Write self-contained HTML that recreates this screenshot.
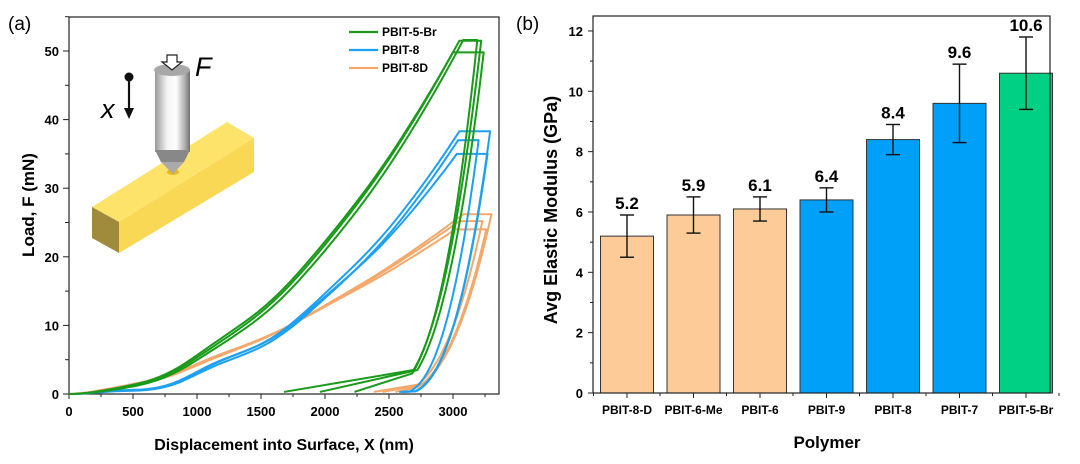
<!DOCTYPE html>
<html><head><meta charset="utf-8"><style>
html,body{margin:0;padding:0;background:#fff;}
svg text{font-family:"Liberation Sans",Arial,sans-serif;}
</style></head><body>
<svg id="s" width="1080" height="459" viewBox="0 0 1080 459" xmlns="http://www.w3.org/2000/svg">
<defs>
<linearGradient id="cyl" x1="0" x2="1" y1="0" y2="0">
<stop offset="0" stop-color="#9a9a9a"/><stop offset="0.35" stop-color="#f4f4f4"/><stop offset="0.6" stop-color="#ffffff"/><stop offset="0.85" stop-color="#b0b0b0"/><stop offset="1" stop-color="#707070"/></linearGradient>
</defs>
<text x="8" y="30" font-size="19">(a)</text>
<text x="516" y="30" font-size="19">(b)</text>
<g id="left"></g>
<g id="right"></g>
<polygon points="92,207 227,122 254,138 119,222" fill="#fde36a"/>
<polygon points="119,222 254,138 254,172 119,253" fill="#f8d855"/>
<polygon points="92,207 119,222 119,253 92,238" fill="#a08a3c"/>
<ellipse cx="173" cy="172" rx="6" ry="3" fill="#e8b820"/>
<rect x="155" y="70" width="35" height="82" fill="url(#cyl)"/>
<polygon points="155,150 190,150 184,162 161,162" fill="#888"/>
<polygon points="161,162 184,162 173,174" fill="#aaa"/>
<ellipse cx="172" cy="70" rx="18" ry="6" fill="#a8a8a8"/>
<path d="M167,55 h10 v7 h5 l-10,8 l-10,-8 h5z" fill="#fff" stroke="#222" stroke-width="1.2"/>
<text x="195" y="76" font-size="27" font-style="italic">F</text>
<text x="101" y="118" font-size="27" font-style="italic">x</text>
<circle cx="129" cy="77" r="4.5" fill="#111"/>
<line x1="129" y1="77" x2="129" y2="110" stroke="#111" stroke-width="2.2"/>
<polygon points="124,108 134,108 129,119" fill="#111"/>
</svg>
<script>
var NS="http://www.w3.org/2000/svg";
function el(p,t,a,txt){var e=document.createElementNS(NS,t);for(var k in a)e.setAttribute(k,a[k]);if(txt!==undefined)e.textContent=txt;p.appendChild(e);return e;}
var L=document.getElementById('left');
var X0=69,Y0=394,sx=0.128,sy=6.86;
function px(x){return X0+x*sx;} function py(y){return Y0-y*sy;}
el(L,'rect',{x:69,y:17,width:430,height:377,fill:'none',stroke:'#222','stroke-width':1.2});
for(var v=0;v<=3250;v+=250){var xx=px(v);el(L,'line',{x1:xx,y1:394,x2:xx,y2:v%500==0?399:397,stroke:'#222'});}
for(v=0;v<=3000;v+=500)el(L,'text',{x:px(v),y:416,'font-size':13,'font-weight':'bold','text-anchor':'middle'},v);
for(v=0;v<=55;v+=5){var yy=py(v);el(L,'line',{x1:69,y1:yy,x2:v%10==0?63:65,y2:yy,stroke:'#222'});}
for(v=0;v<=50;v+=10)el(L,'text',{x:59,y:py(v)+5,'font-size':13,'font-weight':'bold','text-anchor':'end'},v);
el(L,'text',{x:284,y:450,'font-size':16,'font-weight':'bold','text-anchor':'middle'},'Displacement into Surface, X (nm)');
el(L,'text',{x:0,y:0,'font-size':17,'font-weight':'bold','text-anchor':'middle',transform:'translate(34,205) rotate(-90)'},'Load, F (mN)');
function curve(col,x1,F,exp,x2,xf,m,tailx,taily,wob){
 var d=[],i,x,f;
 for(i=0;i<=60;i++){x=x1*i/60;f=F*Math.pow(x/x1,exp);if(wob)f+=wob*Math.sin(x/150)*Math.min(1,x/1000)*Math.max(0,1-x/2800);d.push(px(x).toFixed(1)+','+py(Math.max(0,f)).toFixed(1));}
 d.push(px(x2)+','+py(F));
 for(i=50;i>=0;i--){x=xf+(x2-xf)*i/50;f=F*Math.pow((x-xf)/(x2-xf),m);if(f<taily)break;d.push(px(x).toFixed(1)+','+py(f).toFixed(1));}
 d.push(px(xf+(x2-xf)*Math.pow(taily/F,1/m)).toFixed(1)+','+py(taily).toFixed(1));
 d.push(px(tailx)+','+py(0.3));
 el(L,'polyline',{points:d.join(' '),fill:'none',stroke:col,'stroke-width':2,'stroke-linejoin':'round'});
}
var G='#1a9a1a',B='#1ea0f0',O='#f4a96c';
curve(O,3080,26.2,1.65,3300,2500,2.6,2380,1.5,0.3);
curve(O,3050,25.2,1.6,3230,2480,2.6,2450,1.2,0.3);
curve(O,3020,24.0,1.55,3260,2500,2.6,2550,1.0,0.3);
curve(B,3050,38.3,2.3,3290,2580,2.6,2600,0.4,0.8);
curve(B,3040,37.0,2.35,3200,2560,2.5,2580,0.4,0.7);
curve(B,3030,35.0,2.2,3270,2600,2.5,2620,0.4,0.8);
curve(G,3050,51.5,2.0,3220,2400,2.6,1680,3.5,0.5);
curve(G,3000,49.8,2.05,3240,2430,2.6,1960,3.5,0.4);
curve(G,3080,51.6,2.1,3190,2410,2.7,2230,3.0,0.4);
var lg=[[G,'PBIT-5-Br',32],[B,'PBIT-8',50],[O,'PBIT-8D',68]];
lg.forEach(function(a){el(L,'line',{x1:349,y1:a[2],x2:378,y2:a[2],stroke:a[0],'stroke-width':2.2});el(L,'text',{x:382,y:a[2]+4,'font-size':12,'font-weight':'bold'},a[1]);});
var R=document.getElementById('right');
var RB=393,rs=30.17;
function ry(v){return RB-v*rs;}
var bars=[['PBIT-8-D',5.2,0.7,0.7,'#fccb98'],['PBIT-6-Me',5.9,0.6,0.6,'#fccb98'],['PBIT-6',6.1,0.4,0.4,'#fccb98'],['PBIT-9',6.4,0.4,0.4,'#00a0f8'],['PBIT-8',8.4,0.5,0.5,'#00a0f8'],['PBIT-7',9.6,1.3,1.3,'#00a0f8'],['PBIT-5-Br',10.6,1.2,1.2,'#00d084']];
bars.forEach(function(b,i){var c=627+i*66.5;
 el(R,'rect',{x:c-26.5,y:ry(b[1]),width:53,height:b[1]*rs,fill:b[4],stroke:'#333','stroke-width':1});
 el(R,'line',{x1:c,y1:ry(b[1]+b[2]),x2:c,y2:ry(b[1]-b[3]),stroke:'#111','stroke-width':1.4});
 el(R,'line',{x1:c-7,y1:ry(b[1]+b[2]),x2:c+7,y2:ry(b[1]+b[2]),stroke:'#111','stroke-width':1.4});
 el(R,'line',{x1:c-7,y1:ry(b[1]-b[3]),x2:c+7,y2:ry(b[1]-b[3]),stroke:'#111','stroke-width':1.4});
 el(R,'text',{x:c,y:ry(b[1]+b[2])-6,'font-size':17,'font-weight':'bold','text-anchor':'middle'},b[1].toFixed(1));
 el(R,'line',{x1:c,y1:393,x2:c,y2:398,stroke:'#222'});
 el(R,'text',{x:c,y:414,'font-size':12,'font-weight':'bold','text-anchor':'middle'},b[0]);
});
for(var k=0;k<=7;k++){el(R,'line',{x1:593.5+k*66.5,y1:393,x2:593.5+k*66.5,y2:396,stroke:'#222'});}
el(R,'rect',{x:593,y:16,width:457,height:377,fill:'none',stroke:'#222','stroke-width':1.2});
for(v=0;v<=12;v++){var yy=ry(v);el(R,'line',{x1:593,y1:yy,x2:v%2==0?588:590,y2:yy,stroke:'#222'});}
for(v=0;v<=12;v+=2)el(R,'text',{x:583,y:ry(v)+5,'font-size':13,'font-weight':'bold','text-anchor':'end'},v);
el(R,'text',{x:827,y:448,'font-size':17,'font-weight':'bold','text-anchor':'middle'},'Polymer');
el(R,'text',{x:0,y:0,'font-size':18,'font-weight':'bold','text-anchor':'middle',transform:'translate(557,210) rotate(-90)'},'Avg Elastic Modulus (GPa)');
</script>
</body></html>
